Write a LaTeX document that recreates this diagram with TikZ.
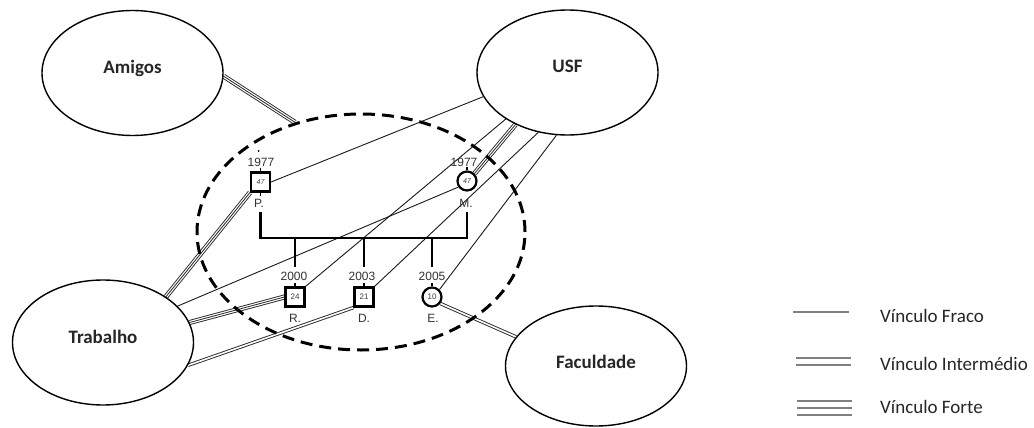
\documentclass[tikz,border=0pt]{standalone}
\usepackage{fontspec}
\newfontfamily\calib{Carlito}
\newfontfamily\arialf{Liberation Sans}
\usetikzlibrary{shapes.geometric}
\pgfdeclarelayer{bg}
\pgfsetlayers{bg,main}
\tikzset{
  ctx/.style={ellipse, draw, line width=1.4pt, minimum width=181pt, minimum height=125pt, inner sep=0pt},
  elabel/.style={font=\calib\bfseries\fontsize{19}{22}\selectfont, text=black!85, inner sep=0pt},
  famsys/.style={ellipse, draw, line width=3pt, dash pattern=on 12pt off 7pt, minimum width=328pt, minimum height=236pt, inner sep=0pt},
  male/.style={rectangle, draw, line width=2.2pt, minimum size=19pt, inner sep=0pt, fill=white},
  female/.style={circle, draw, line width=2.2pt, minimum size=19pt, inner sep=0pt, fill=white},
  agetxt/.style={font=\arialf\itshape\fontsize{7}{8}\selectfont, text=black!75},
  gtxt/.style={font=\arialf\fontsize{12}{14}\selectfont, text=black!80, inner sep=0pt},
  fraco/.style={draw=black!90, line width=0.9pt},
  interm/.style={draw=black!85, line width=3.4pt, postaction={draw=white, line width=1.6pt}},
  forte/.style={draw=black!85, line width=5pt, postaction={draw=white, line width=3.2pt}, postaction={draw=black!85, line width=0.8pt}},
  famline/.style={line width=2.4pt},
  tick/.style={line width=1.5pt},
  legfraco/.style={draw=black!50, line width=2pt},
  leginterm/.style={draw=black!50, line width=9pt, postaction={draw=white, line width=5pt}},
  legforte/.style={draw=black!50, line width=16pt, postaction={draw=white, line width=12pt}, postaction={draw=black!50, line width=2pt}},
  legtxt/.style={font=\calib\fontsize{19}{22}\selectfont, text=black!85, anchor=west, inner sep=0pt},
}
\begin{document}
\begin{tikzpicture}[x=1pt,y=-1pt]
\useasboundingbox (0,0) rectangle (1034,428);
\begin{pgfonlayer}{bg}
\fill[white] (0,0) rectangle (1034,428);
\end{pgfonlayer}

% context ellipses
\node[ctx] (amigos) at (132.5,73) {};
\node[ctx] (usf) at (567.5,72.5) {};
\node[ctx] (trab) at (103,342.5) {};
\node[ctx, minimum height=120pt] (facul) at (596,366) {};
\node[elabel] at ([yshift=5pt]amigos.center) {Amigos};
\node[elabel] at ([yshift=6pt]usf.center) {USF};
\node[elabel] at ([yshift=6pt]trab.center) {Trabalho};
\node[elabel] at ([yshift=4pt]facul.center) {Faculdade};

% family system
\node[famsys] (sys) at (361,232) {};

% genogram symbols
\node[male] (p) at (260.5,182) {};
\node[agetxt] at (p) {47};
\node[female] (m) at (467,181) {};
\node[agetxt] at (m) {47};
\node[male] (r) at (295,297) {};
\node[agetxt, font=\arialf\fontsize{8}{9}\selectfont] at (r) {24};
\node[male] (d) at (364,297) {};
\node[agetxt, font=\arialf\fontsize{8}{9}\selectfont] at (d) {21};
\node[female] (e) at (432,297) {};
\node[agetxt, font=\arialf\fontsize{8}{9}\selectfont] at (e) {10};

% genogram labels
\node[gtxt] (py) at (261,162) {1977};
\node[gtxt] (my) at (464,162) {1977};
\node[gtxt] (ry) at (294,276) {2000};
\node[gtxt] (dy) at (362,276) {2003};
\node[gtxt] (ey) at (432,276) {2005};
\node[gtxt] (pn) at (259,203) {P.};
\node[gtxt] (mn) at (466,203) {M.};
\node[gtxt] (rn) at (295,318) {R.};
\node[gtxt] (dn) at (364,318) {D.};
\node[gtxt] (en) at (433,318) {E.};
\fill (258.5,151) circle (1pt);

% ticks
\draw[tick] (p.north) -- ++(0,-3);
\draw[tick] (p.south) -- ++(0,3);
\draw[tick] (m.north) -- ++(0,-3);
\draw[tick] (r.north) -- ++(0,-3);
\draw[tick] (d.north) -- ++(0,-3);
\draw[tick] (e.north) -- ++(0,-3);

% family lines
\coordinate (pdrop) at (260.5,212);
\coordinate (mdrop) at (467,212);
\coordinate (bar) at (360,238);
\coordinate (kid) at (360,267);
\draw[famline] (pdrop) -- (pdrop |- bar) -- (mdrop |- bar) -- (mdrop);
\draw[famline] (r.north |- bar) -- (r.north |- kid);
\draw[famline] (d.north |- bar) -- (d.north |- kid);
\draw[famline] (e.north |- bar) -- (e.north |- kid);

% connectors
\begin{pgfonlayer}{bg}
\draw[forte] (amigos.-2) -- (sys.121);
\draw[fraco] (p.east) -- (usf.196);
\draw[forte] (m.45) -- (usf.225);
\draw[fraco] (r.north east) -- (usf.217);
\draw[fraco] (d.north east) -- (usf.244);
\draw[fraco] (e.45) -- (usf.260);
\draw[forte] (trab.36) -- (p.south west);
\draw[fraco] (trab.26) -- (m.215);
\draw[forte] (trab.13) -- (r.west);
\draw[interm] (trab.-15) -- (d.south west);
\draw[interm] (e.-38) -- (facul.160);
\end{pgfonlayer}

% legend
\coordinate (l1a) at (793,311.5); \coordinate (l1b) at (849,311.5);
\coordinate (l2a) at (796,361.8); \coordinate (l2b) at (851,361.8);
\coordinate (l3a) at (797,408); \coordinate (l3b) at (852,408);
\draw[legfraco] (l1a) -- (l1b);
\draw[leginterm] (l2a) -- (l2b);
\draw[legforte] (l3a) -- (l3b);
\node[legtxt] (t1) at (880,316) {Vínculo Fraco};
\node[legtxt] (t2) at (880,364) {Vínculo Intermédio};
\node[legtxt] (t3) at (880,407) {Vínculo Forte};
\end{tikzpicture}
\end{document}
